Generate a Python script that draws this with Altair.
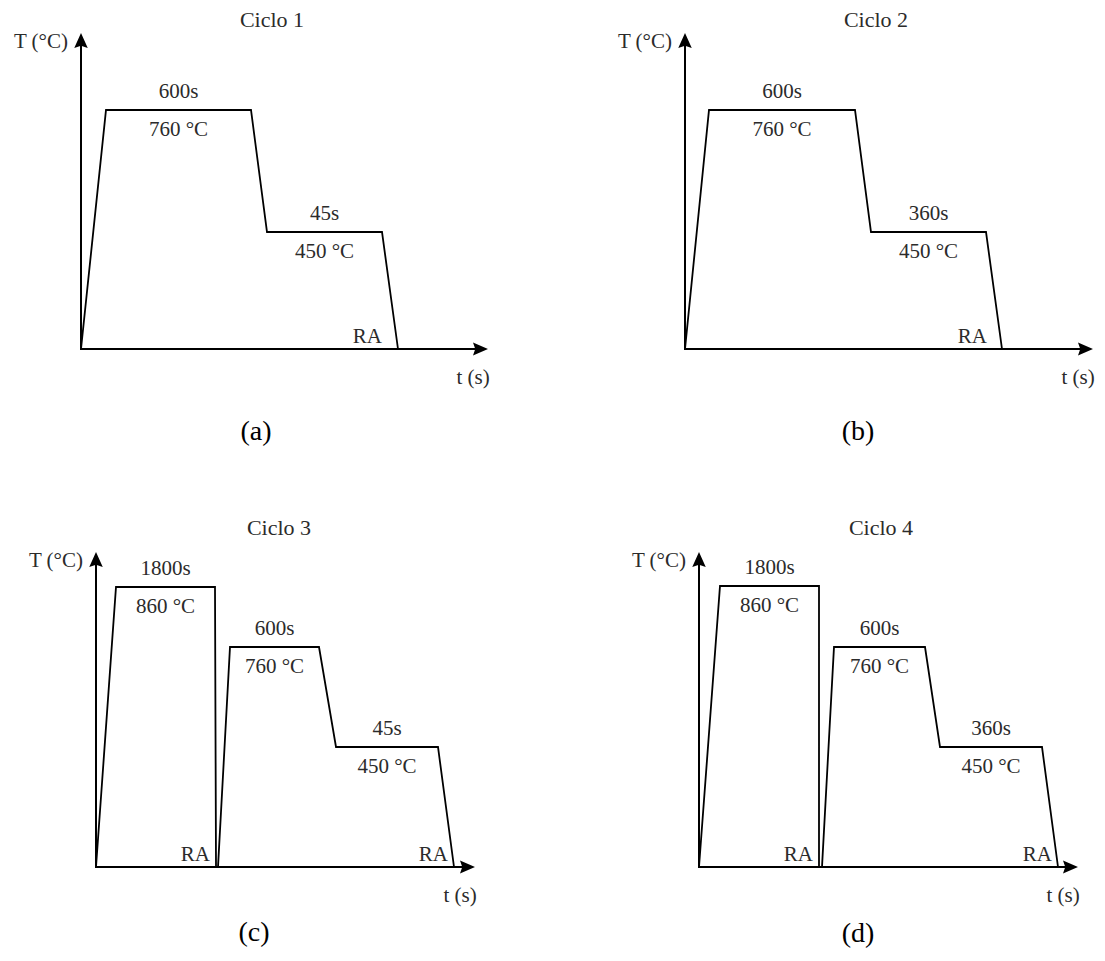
import altair as alt
import pandas as pd

# ---------------- data (schematic heat-treatment cycles) ----------------
titles = ["Ciclo 1", "Ciclo 2", "Ciclo 3", "Ciclo 4"]
captions = ["(a)", "(b)", "(c)", "(d)"]

# schematic time (t) and temperature level (T) of each profile vertex
t_a = [0, 25, 170, 186, 301, 317]
T_a = [0, 239, 239, 117, 117, 0]
t_b = [0, 24, 170, 186, 301, 317]
T_b = [0, 239, 239, 117, 117, 0]
t_c = [0, 20, 119, 120, 122, 134, 223, 240, 342, 358]
T_c = [0, 280, 280, 0, 0, 220, 220, 120, 120, 0]
t_d = [0, 21, 120, 120, 123, 135, 226, 241, 343, 359]
T_d = [0, 281, 281, 0, 0, 220, 220, 120, 120, 0]

durations_a = ["600s", "45s"]
durations_b = ["600s", "360s"]
durations_c = ["1800s", "600s", "45s"]
durations_d = ["1800s", "600s", "360s"]
temps_a = ["760 °C", "450 °C"]
temps_b = ["760 °C", "450 °C"]
temps_c = ["860 °C", "760 °C", "450 °C"]
temps_d = ["860 °C", "760 °C", "450 °C"]

t_axis_end = [407, 408, 379, 379]
T_axis_end = [316, 316, 315, 315]

x_axis_label = "t (s)"
y_axis_label = "T (°C)"
room_temp_label = "RA"

# ---------------- layout / style ----------------
W, H = 544, 472
PANEL_ORIGIN = [(8, 8), (552, 8), (8, 480), (552, 480)]
AXIS_ORIGIN = [(81, 349), (685, 349), (96, 867), (699, 867)]
TITLE_POS = [(272, 20), (876, 20), (279, 528), (881, 528)]
CAPTION_POS = [(256, 432), (858, 432), (254, 933), (858, 934)]
RA_DX = [-16, -15, -6, -6]
FONT = "Liberation Serif"
TXT = "#2b2b2b"
LABEL_SIZE = 21
ARROW_SIZE = 900
UP_ARROW = "M0,0L0.45,1L0,0.85L-0.45,1Z"
RIGHT_ARROW = "M0,0L-1,-0.43L-0.85,0L-1,0.43Z"


def build(k, t, T, durs, temps):
    px, py = PANEL_ORIGIN[k]
    ax, ay = AXIS_ORIGIN[k]
    ox, oy = ax - px, ay - py
    xs = alt.Scale(domain=[-ox, W - ox], nice=False, zero=False)
    ys = alt.Scale(domain=[-(H - oy), oy], nice=False, zero=False)

    def X(f):
        return alt.X(f, scale=xs, axis=None)

    def Y(f):
        return alt.Y(f, scale=ys, axis=None)

    te, Te = t_axis_end[k], T_axis_end[k]

    axes_df = pd.DataFrame({"t": [0, 0], "T": [0, 0], "t2": [0, te - 6], "T2": [Te - 6, 0]})
    axes = alt.Chart(axes_df).mark_rule(color="black", strokeWidth=2, strokeCap="square").encode(
        x=X("t:Q"), y=Y("T:Q"), x2="t2:Q", y2="T2:Q")

    up = alt.Chart(pd.DataFrame({"t": [0], "T": [Te]})).mark_point(
        shape=UP_ARROW, size=ARROW_SIZE, filled=True, color="black", opacity=1, strokeWidth=0
    ).encode(x=X("t:Q"), y=Y("T:Q"))
    right = alt.Chart(pd.DataFrame({"t": [te], "T": [0]})).mark_point(
        shape=RIGHT_ARROW, size=ARROW_SIZE, filled=True, color="black", opacity=1, strokeWidth=0
    ).encode(x=X("t:Q"), y=Y("T:Q"))

    prof_df = pd.DataFrame({"t": t, "T": T, "i": list(range(len(t)))})
    profile = alt.Chart(prof_df).mark_line(color="black", strokeWidth=1.8, strokeJoin="miter").encode(
        x=X("t:Q"), y=Y("T:Q"), order=alt.Order("i:Q"))

    plats = [((t[i] + t[i + 1]) / 2, T[i]) for i in range(len(t) - 1) if T[i] == T[i + 1] and T[i] > 0]
    lab_df = pd.DataFrame({"t": [p[0] for p in plats], "T": [p[1] for p in plats],
                           "dur": durs, "temp": temps})
    dur_txt = alt.Chart(lab_df).mark_text(font=FONT, fontSize=LABEL_SIZE, color=TXT, dy=-18,
                                          baseline="middle").encode(
        x=X("t:Q"), y=Y("T:Q"), text="dur:N")
    temp_txt = alt.Chart(lab_df).mark_text(font=FONT, fontSize=LABEL_SIZE, color=TXT, dy=20,
                                           baseline="middle").encode(
        x=X("t:Q"), y=Y("T:Q"), text="temp:N")

    ra_t = [t[i] for i in range(1, len(t)) if T[i] == 0 and T[i - 1] > 0]
    ra_df = pd.DataFrame({"t": ra_t, "T": [0] * len(ra_t), "s": [room_temp_label] * len(ra_t)})
    ra_txt = alt.Chart(ra_df).mark_text(font=FONT, fontSize=LABEL_SIZE, color=TXT, align="right",
                                        dx=RA_DX[k], dy=-12, baseline="middle").encode(
        x=X("t:Q"), y=Y("T:Q"), text="s:N")

    ylab = alt.Chart(pd.DataFrame({"t": [0], "T": [Te], "s": [y_axis_label]})).mark_text(
        font=FONT, fontSize=LABEL_SIZE, color=TXT, align="right", dx=-13, dy=9, baseline="middle").encode(
        x=X("t:Q"), y=Y("T:Q"), text="s:N")
    xlab = alt.Chart(pd.DataFrame({"t": [te], "T": [0], "s": [x_axis_label]})).mark_text(
        font=FONT, fontSize=LABEL_SIZE, color=TXT, align="center", dx=-15, dy=29, baseline="middle").encode(
        x=X("t:Q"), y=Y("T:Q"), text="s:N")

    tx, ty = TITLE_POS[k]
    title = alt.Chart(pd.DataFrame({"s": [titles[k]]})).mark_text(
        font=FONT, fontSize=22, color=TXT, baseline="middle").encode(
        x=alt.value(tx - px), y=alt.value(ty - py), text="s:N")
    cx, cy = CAPTION_POS[k]
    cap = alt.Chart(pd.DataFrame({"s": [captions[k]]})).mark_text(
        font=FONT, fontSize=28, color="black", baseline="middle").encode(
        x=alt.value(cx - px), y=alt.value(cy - py), text="s:N")

    return alt.layer(axes, profile, up, right, dur_txt, temp_txt, ra_txt, ylab, xlab, title, cap).properties(
        width=W, height=H)


panels = [
    build(0, t_a, T_a, durations_a, temps_a),
    build(1, t_b, T_b, durations_b, temps_b),
    build(2, t_c, T_c, durations_c, temps_c),
    build(3, t_d, T_d, durations_d, temps_d),
]

chart = alt.concat(*panels, columns=2, spacing=0, bounds="flush").properties(
    padding=0, background="white").configure_view(stroke=None)

chart.save("out.html", embed_options={"renderer": "svg", "actions": False})
